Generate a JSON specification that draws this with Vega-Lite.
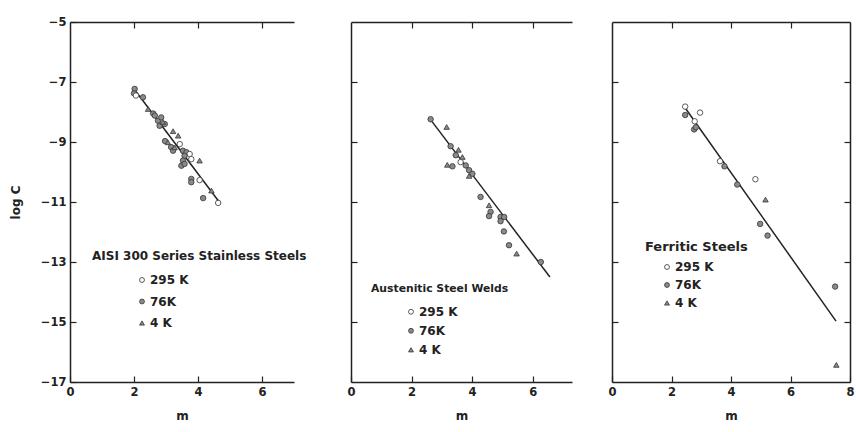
{
  "$schema": "https://vega.github.io/schema/vega-lite/v6.json",
  "background": "white",
  "padding": {"left": 9, "top": 16, "right": 0, "bottom": 0},
  "spacing": 35,
  "config": {
    "view": {"stroke": null},
    "font": "DejaVu Sans",
    "axis": {
      "grid": false,
      "domainColor": "#222",
      "domainWidth": 1.5,
      "tickColor": "#222",
      "tickWidth": 1.2,
      "tickSize": -6,
      "labelPadding": 10,
      "labelFlush": false,
      "labelColor": "#222",
      "labelFont": "DejaVu Sans",
      "labelFontSize": 11.5,
      "labelFontWeight": "bold",
      "titleColor": "#222",
      "titleFont": "DejaVu Sans",
      "titleFontSize": 12,
      "titleFontWeight": "bold"
    },
    "legend": {
      "titleFont": "DejaVu Sans",
      "titleFontSize": 12,
      "titleFontWeight": "bold",
      "titleColor": "#222",
      "titleLimit": 400,
      "labelFont": "DejaVu Sans",
      "labelFontSize": 12,
      "labelFontWeight": "bold",
      "labelColor": "#222",
      "labelOffset": 2,
      "symbolSize": 24,
      "symbolStrokeWidth": 0.8,
      "rowPadding": 9,
      "titlePadding": 10,
      "padding": 0
    }
  },
  "datasets": {
    "p1": [
      {"m": 2.02, "logC": -7.23, "T": "76K"},
      {"m": 2.0, "logC": -7.38, "T": "76K"},
      {"m": 2.06, "logC": -7.45, "T": "295 K"},
      {"m": 2.28, "logC": -7.51, "T": "76K"},
      {"m": 2.44, "logC": -7.9, "T": "4 K"},
      {"m": 2.6, "logC": -8.05, "T": "76K"},
      {"m": 2.65, "logC": -8.12, "T": "76K"},
      {"m": 2.75, "logC": -8.29, "T": "76K"},
      {"m": 2.8, "logC": -8.46, "T": "76K"},
      {"m": 2.85, "logC": -8.18, "T": "76K"},
      {"m": 2.96, "logC": -8.4, "T": "76K"},
      {"m": 2.9, "logC": -8.33, "T": "4 K"},
      {"m": 3.22, "logC": -8.64, "T": "4 K"},
      {"m": 3.38, "logC": -8.79, "T": "4 K"},
      {"m": 2.97, "logC": -8.97, "T": "76K"},
      {"m": 3.06, "logC": -9.01, "T": "4 K"},
      {"m": 3.16, "logC": -9.17, "T": "76K"},
      {"m": 3.43, "logC": -9.07, "T": "295 K"},
      {"m": 3.22, "logC": -9.29, "T": "76K"},
      {"m": 3.27, "logC": -9.18, "T": "4 K"},
      {"m": 3.53, "logC": -9.29, "T": "76K"},
      {"m": 3.64, "logC": -9.34, "T": "76K"},
      {"m": 3.74, "logC": -9.4, "T": "295 K"},
      {"m": 3.79, "logC": -9.57, "T": "295 K"},
      {"m": 3.58, "logC": -9.46, "T": "76K"},
      {"m": 3.53, "logC": -9.62, "T": "76K"},
      {"m": 3.48, "logC": -9.79, "T": "76K"},
      {"m": 3.58, "logC": -9.73, "T": "76K"},
      {"m": 4.05, "logC": -9.62, "T": "4 K"},
      {"m": 3.79, "logC": -10.23, "T": "76K"},
      {"m": 3.79, "logC": -10.34, "T": "76K"},
      {"m": 4.05, "logC": -10.27, "T": "295 K"},
      {"m": 4.42, "logC": -10.62, "T": "4 K"},
      {"m": 4.16, "logC": -10.87, "T": "76K"},
      {"m": 4.63, "logC": -11.03, "T": "295 K"}
    ],
    "p2": [
      {"m": 2.63, "logC": -8.24, "T": "76K"},
      {"m": 3.16, "logC": -8.5, "T": "4 K"},
      {"m": 3.29, "logC": -9.14, "T": "76K"},
      {"m": 3.55, "logC": -9.26, "T": "4 K"},
      {"m": 3.46, "logC": -9.44, "T": "76K"},
      {"m": 3.68, "logC": -9.5, "T": "4 K"},
      {"m": 3.62, "logC": -9.67, "T": "295 K"},
      {"m": 3.79, "logC": -9.78, "T": "76K"},
      {"m": 3.18, "logC": -9.76, "T": "4 K"},
      {"m": 3.35, "logC": -9.81, "T": "76K"},
      {"m": 3.9, "logC": -9.94, "T": "76K"},
      {"m": 4.01, "logC": -10.06, "T": "76K"},
      {"m": 3.9, "logC": -10.13, "T": "4 K"},
      {"m": 4.28, "logC": -10.83, "T": "76K"},
      {"m": 4.56, "logC": -11.11, "T": "4 K"},
      {"m": 4.61, "logC": -11.33, "T": "76K"},
      {"m": 4.56, "logC": -11.47, "T": "76K"},
      {"m": 4.94, "logC": -11.5, "T": "76K"},
      {"m": 5.06, "logC": -11.5, "T": "76K"},
      {"m": 4.94, "logC": -11.64, "T": "76K"},
      {"m": 5.05, "logC": -11.98, "T": "76K"},
      {"m": 5.22, "logC": -12.44, "T": "76K"},
      {"m": 5.47, "logC": -12.72, "T": "4 K"},
      {"m": 6.27, "logC": -13.0, "T": "76K"}
    ],
    "p3": [
      {"m": 2.46, "logC": -7.82, "T": "295 K"},
      {"m": 2.46, "logC": -8.1, "T": "76K"},
      {"m": 2.96, "logC": -8.02, "T": "295 K"},
      {"m": 2.78, "logC": -8.31, "T": "295 K"},
      {"m": 2.76, "logC": -8.58, "T": "76K"},
      {"m": 2.82, "logC": -8.51, "T": "76K"},
      {"m": 3.63, "logC": -9.64, "T": "295 K"},
      {"m": 3.78, "logC": -9.81, "T": "76K"},
      {"m": 4.21, "logC": -10.42, "T": "76K"},
      {"m": 4.82, "logC": -10.24, "T": "295 K"},
      {"m": 5.16, "logC": -10.92, "T": "4 K"},
      {"m": 4.98, "logC": -11.73, "T": "76K"},
      {"m": 5.23, "logC": -12.12, "T": "76K"},
      {"m": 7.5, "logC": -13.82, "T": "76K"},
      {"m": 7.54, "logC": -16.43, "T": "4 K"}
    ],
    "fit1": [{"m1": 2.05, "c1": -7.3, "m2": 4.7, "c2": -11.05}],
    "fit2": [{"m1": 2.64, "c1": -8.27, "m2": 6.57, "c2": -13.5}],
    "fit3": [{"m1": 2.45, "c1": -7.85, "m2": 7.53, "c2": -14.97}]
  },
  "resolve": {
    "scale": {"shape": "independent", "fill": "independent", "stroke": "independent"},
    "legend": {"shape": "independent", "fill": "independent", "stroke": "independent"}
  },
  "hconcat": [
    {
      "width": 224,
      "height": 360,
      "resolve": {"axis": {"x": "independent"}},
      "layer": [
        {
          "data": {"name": "fit1"},
          "mark": {"type": "rule", "color": "#222", "strokeWidth": 1.5},
          "encoding": {
            "x": {"field": "m1", "type": "quantitative", "scale": {"domain": [0, 7], "nice": false}, "axis": {"orient": "top", "labels": false, "title": null, "values": [2, 4, 6]}},
            "x2": {"field": "m2"},
            "y": {"field": "c1", "type": "quantitative", "scale": {"domain": [-17, -5], "nice": false}, "axis": {"title": "log C", "values": [-5, -7, -9, -11, -13, -15, -17], "titlePadding": 18}},
            "y2": {"field": "c2"}
          }
        },
        {
          "data": {"name": "p1"},
          "mark": {"type": "point", "filled": true, "size": 30, "strokeWidth": 0.8, "opacity": 1},
          "encoding": {
            "x": {"field": "m", "type": "quantitative", "axis": {"title": "m", "values": [0, 2, 4, 6], "titlePadding": 13}},
            "y": {"field": "logC", "type": "quantitative", "axis": {"title": "log C", "values": [-5, -7, -9, -11, -13, -15, -17], "titlePadding": 18}},
            "shape": {"field": "T", "type": "nominal", "title": "AISI 300 Series Stainless Steels", "scale": {"domain": ["295 K", "76K", "4 K"], "range": ["circle", "circle", "triangle-up"]}, "legend": {"orient": "none", "legendX": 22, "legendY": 229, "symbolOffset": 44, "titlePadding": 11, "rowPadding": 9.5}},
            "fill": {"field": "T", "type": "nominal", "title": "AISI 300 Series Stainless Steels", "scale": {"domain": ["295 K", "76K", "4 K"], "range": ["white", "#8a8a8a", "#8a8a8a"]}, "legend": {"orient": "none", "legendX": 22, "legendY": 229, "symbolOffset": 44, "titlePadding": 11, "rowPadding": 9.5}},
            "stroke": {"field": "T", "type": "nominal", "title": "AISI 300 Series Stainless Steels", "scale": {"domain": ["295 K", "76K", "4 K"], "range": ["#333", "#333", "#333"]}, "legend": {"orient": "none", "legendX": 22, "legendY": 229, "symbolOffset": 44, "titlePadding": 11, "rowPadding": 9.5}}
          }
        }
      ]
    },
    {
      "width": 221,
      "height": 360,
      "resolve": {"axis": {"x": "independent"}},
      "layer": [
        {
          "data": {"name": "fit2"},
          "mark": {"type": "rule", "color": "#222", "strokeWidth": 1.5},
          "encoding": {
            "x": {"field": "m1", "type": "quantitative", "scale": {"domain": [0, 7.3], "nice": false}, "axis": {"orient": "top", "labels": false, "title": null, "values": [2, 4, 6]}},
            "x2": {"field": "m2"},
            "y": {"field": "c1", "type": "quantitative", "scale": {"domain": [-17, -5], "nice": false}, "axis": {"title": null, "labels": false, "values": [-7, -9, -11, -13, -15], "minExtent": 9}},
            "y2": {"field": "c2"}
          }
        },
        {
          "data": {"name": "p2"},
          "mark": {"type": "point", "filled": true, "size": 30, "strokeWidth": 0.8, "opacity": 1},
          "encoding": {
            "x": {"field": "m", "type": "quantitative", "axis": {"title": "m", "values": [0, 2, 4, 6], "titlePadding": 13}},
            "y": {"field": "logC", "type": "quantitative", "axis": {"title": null, "labels": false, "values": [-7, -9, -11, -13, -15], "minExtent": 9}},
            "shape": {"field": "T", "type": "nominal", "title": "Austenitic Steel Welds", "scale": {"domain": ["295 K", "76K", "4 K"], "range": ["circle", "circle", "triangle-up"]}, "legend": {"orient": "none", "legendX": 20, "legendY": 261, "symbolOffset": 34, "titleFontSize": 10.8, "titlePadding": 12, "rowPadding": 7}},
            "fill": {"field": "T", "type": "nominal", "title": "Austenitic Steel Welds", "scale": {"domain": ["295 K", "76K", "4 K"], "range": ["white", "#8a8a8a", "#8a8a8a"]}, "legend": {"orient": "none", "legendX": 20, "legendY": 261, "symbolOffset": 34, "titleFontSize": 10.8, "titlePadding": 12, "rowPadding": 7}},
            "stroke": {"field": "T", "type": "nominal", "title": "Austenitic Steel Welds", "scale": {"domain": ["295 K", "76K", "4 K"], "range": ["#333", "#333", "#333"]}, "legend": {"orient": "none", "legendX": 20, "legendY": 261, "symbolOffset": 34, "titleFontSize": 10.8, "titlePadding": 12, "rowPadding": 7}}
          }
        }
      ]
    },
    {
      "width": 238,
      "height": 360,
      "resolve": {"axis": {"x": "independent", "y": "independent"}},
      "layer": [
        {
          "data": {"name": "fit3"},
          "mark": {"type": "rule", "color": "#222", "strokeWidth": 1.5},
          "encoding": {
            "x": {"field": "m1", "type": "quantitative", "scale": {"domain": [0, 8], "nice": false}, "axis": {"orient": "top", "labels": false, "title": null, "values": [2, 4, 6]}},
            "x2": {"field": "m2"},
            "y": {"field": "c1", "type": "quantitative", "scale": {"domain": [-17, -5], "nice": false}, "axis": {"orient": "right", "labels": false, "title": null, "values": [-7, -9, -11, -13, -15]}},
            "y2": {"field": "c2"}
          }
        },
        {
          "data": {"name": "p3"},
          "mark": {"type": "point", "filled": true, "size": 30, "strokeWidth": 0.8, "opacity": 1},
          "encoding": {
            "x": {"field": "m", "type": "quantitative", "axis": {"title": "m", "values": [0, 2, 4, 6, 8], "titlePadding": 13}},
            "y": {"field": "logC", "type": "quantitative", "axis": {"title": null, "labels": false, "values": [-7, -9, -11, -13, -15]}},
            "shape": {"field": "T", "type": "nominal", "title": "Ferritic Steels", "scale": {"domain": ["295 K", "76K", "4 K"], "range": ["circle", "circle", "triangle-up"]}, "legend": {"orient": "none", "legendX": 33, "legendY": 219, "symbolOffset": 16, "titleFontSize": 13, "titlePadding": 7, "rowPadding": 6}},
            "fill": {"field": "T", "type": "nominal", "title": "Ferritic Steels", "scale": {"domain": ["295 K", "76K", "4 K"], "range": ["white", "#8a8a8a", "#8a8a8a"]}, "legend": {"orient": "none", "legendX": 33, "legendY": 219, "symbolOffset": 16, "titleFontSize": 13, "titlePadding": 7, "rowPadding": 6}},
            "stroke": {"field": "T", "type": "nominal", "title": "Ferritic Steels", "scale": {"domain": ["295 K", "76K", "4 K"], "range": ["#333", "#333", "#333"]}, "legend": {"orient": "none", "legendX": 33, "legendY": 219, "symbolOffset": 16, "titleFontSize": 13, "titlePadding": 7, "rowPadding": 6}}
          }
        }
      ]
    }
  ]
}
